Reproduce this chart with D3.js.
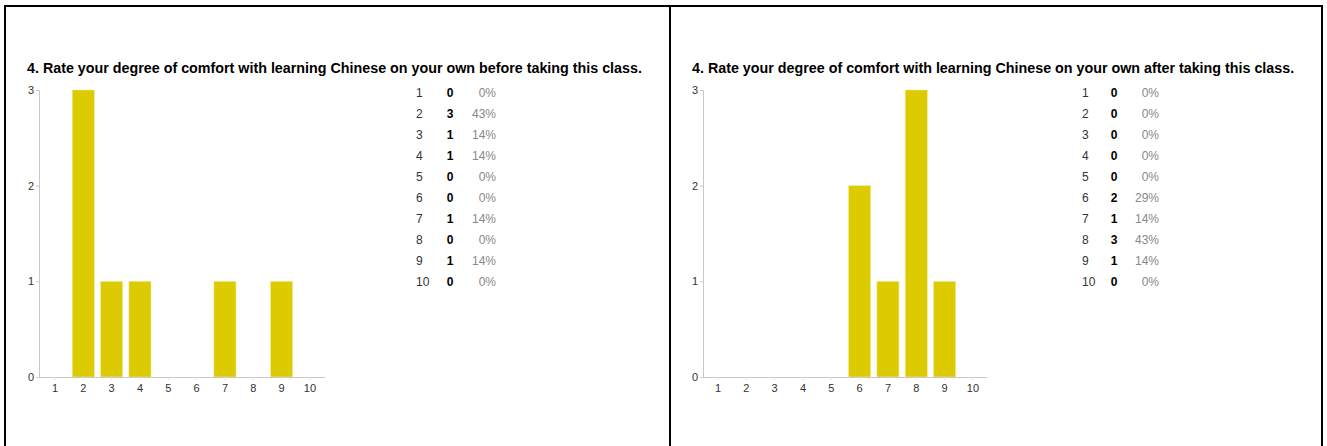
<!DOCTYPE html>
<html><head><meta charset="utf-8">
<script src="https://cdn.jsdelivr.net/npm/d3@7/dist/d3.min.js"></script>
<style>
body{margin:0;background:#fff;}
svg{display:block;font-family:"Liberation Sans",Arial,sans-serif;}
</style></head><body>
<svg id="c" width="1327" height="446"></svg>
<script>
const categories = ["1","2","3","4","5","6","7","8","9","10"];
const beforeCounts = [0,3,1,1,0,0,1,0,1,0];
const afterCounts = [0,0,0,0,0,2,1,3,1,0];
const beforePct = ["0%","43%","14%","14%","0%","0%","14%","0%","14%","0%"];
const afterPct = ["0%","0%","0%","0%","0%","29%","14%","43%","14%","0%"];
const yTicks = [0,1,2,3];
const titles = [
  "4. Rate your degree of comfort with learning Chinese on your own before taking this class.",
  "4. Rate your degree of comfort with learning Chinese on your own after taking this class."
];

const svg = d3.select("#c");
// frame
const frame = svg.append("g").attr("stroke","#000").attr("stroke-width",2).attr("fill","none");
frame.append("path").attr("d","M5,446 V6 H1322 V446");
frame.append("line").attr("x1",670).attr("x2",670).attr("y1",6).attr("y2",446);

const panels = [
  {ox:5, counts:beforeCounts, pct:beforePct, title:titles[0], axisX:34, r0:35.8, r1:319.1, axisEnd:320, lab:411, cnt:445, pc:491},
  {ox:670, counts:afterCounts, pct:afterPct, title:titles[1], axisX:33, r0:33.8, r1:317.1, axisEnd:317, lab:412, cnt:444, pc:489}
];

panels.forEach(p=>{
  const g = svg.append("g").attr("transform",`translate(${p.ox},0)`);
  g.append("text").attr("x",22).attr("y",73).attr("font-size","14.3px").attr("font-weight","bold")
    .attr("fill","#000").text(p.title);

  const x = d3.scaleBand().domain(categories).range([p.r0, p.r1]).paddingInner(0.22).paddingOuter(0.11);
  const y = d3.scaleLinear().domain([0,3]).range([377,90]);

  g.selectAll("rect.bar").data(categories).join("rect")
    .attr("x",d=>x(d)).attr("width",x.bandwidth())
    .attr("y",(d,i)=>y(p.counts[i])).attr("height",(d,i)=>y(0)-y(p.counts[i]))
    .attr("fill","#dccb00").attr("stroke","#f2ea99").attr("stroke-width",0.6);

  const ya = g.append("g").attr("transform",`translate(${p.axisX},0)`)
    .call(d3.axisLeft(y).tickValues(yTicks).tickFormat(d3.format("d")).tickSize(3).tickPadding(2));
  ya.select(".domain").attr("stroke","#c8c8c8");
  ya.selectAll(".tick line").attr("stroke","#c8c8c8");
  ya.selectAll("text").attr("font-size","11px").attr("fill","#333").attr("font-family","Liberation Sans, Arial, sans-serif");

  const xa = g.append("g").attr("transform",`translate(0,377)`)
    .call(d3.axisBottom(x).tickSize(3).tickSizeOuter(0).tickPadding(4));
  xa.select(".domain").attr("stroke","#c8c8c8").attr("d",`M${p.axisX},0.5H${p.axisEnd}`);
  xa.selectAll(".tick line").attr("stroke","#e0e0e0");
  xa.selectAll("text").attr("font-size","11px").attr("fill","#333").attr("font-family","Liberation Sans, Arial, sans-serif");

  // table
  const ry = d3.scalePoint().domain(categories).range([97,286]);
  const t = g.append("g").attr("font-size","12px");
  t.selectAll("text.l").data(categories).join("text").attr("class","l")
    .attr("x",p.lab).attr("y",d=>ry(d)).attr("fill","#333").text(d=>d);
  t.selectAll("text.c").data(categories).join("text").attr("class","c")
    .attr("x",p.cnt).attr("y",d=>ry(d)).attr("text-anchor","middle").attr("font-weight","bold").attr("fill","#000")
    .text((d,i)=>p.counts[i]);
  t.selectAll("text.p").data(categories).join("text").attr("class","p")
    .attr("x",p.pc).attr("y",d=>ry(d)).attr("text-anchor","end").attr("fill","#888")
    .text((d,i)=>p.pct[i]);
});
</script>
</body></html>
